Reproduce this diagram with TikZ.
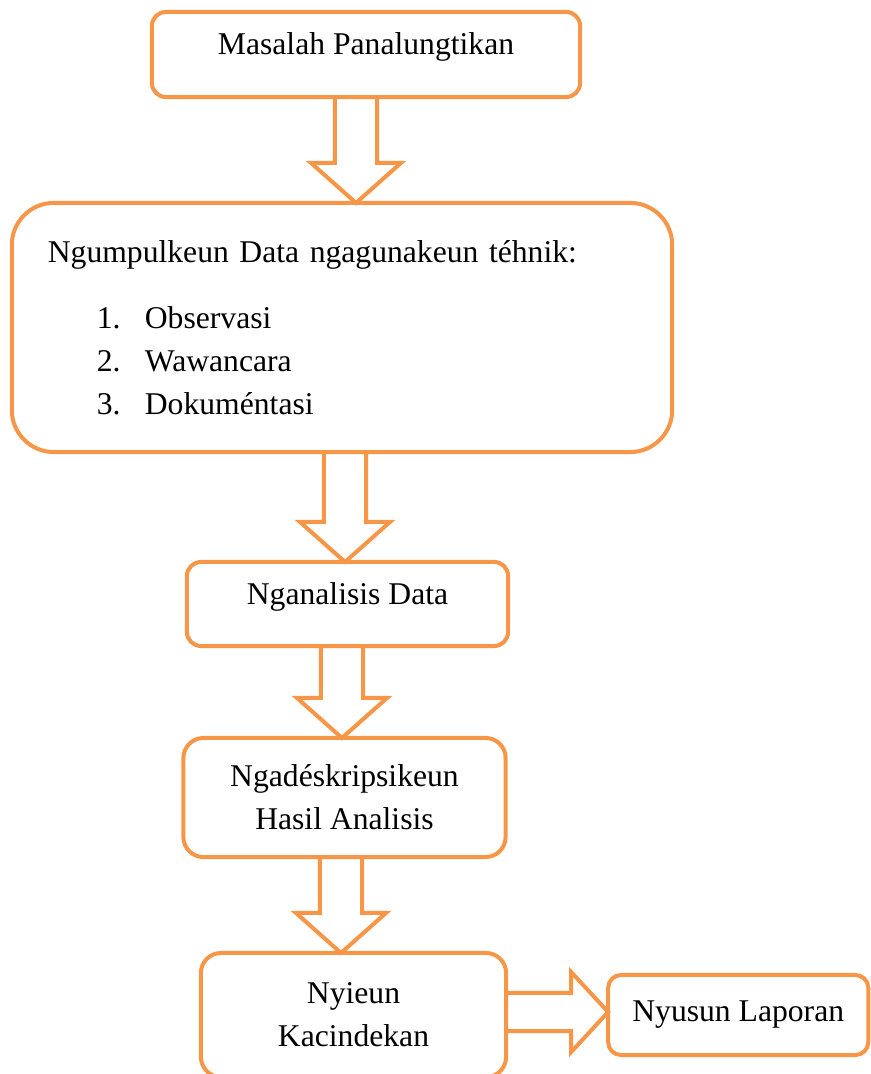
\documentclass[tikz,border=0pt]{standalone}
\usepackage{fontspec}
\setmainfont{Liberation Serif}
\usetikzlibrary{calc,positioning}
\definecolor{boxorange}{HTML}{F79646}

\tikzset{
  box/.style={draw=boxorange, line width=0.04cm, outer sep=0pt, inner sep=0pt,
    align=center, font=\fontsize{9}{12.2}\selectfont},
  blockdown/.style={draw=boxorange, line width=0.04cm, fill=white,
    to path={let \p1=(\tikztostart), \p2=(\tikztotarget) in
      (\x1-0.21cm,\y1) -- (\x1-0.21cm,\y2+0.4cm) -- (\x1-0.45cm,\y2+0.4cm)
      -- (\x1,\y2) -- (\x1+0.45cm,\y2+0.4cm) -- (\x1+0.21cm,\y2+0.4cm)
      -- (\x1+0.21cm,\y1) -- cycle}},
  blockright/.style={draw=boxorange, line width=0.04cm, fill=white,
    to path={let \p1=(\tikztostart), \p2=(\tikztotarget) in
      (\x1,\y1-0.19cm) -- (\x2-0.37cm,\y1-0.19cm) -- (\x2-0.37cm,\y1-0.4cm)
      -- (\x2,\y1) -- (\x2-0.37cm,\y1+0.4cm) -- (\x2-0.37cm,\y1+0.19cm)
      -- (\x1,\y1+0.19cm) -- cycle}}
}

\begin{document}
\begin{tikzpicture}[x=0.01cm,y=-0.01cm]
\useasboundingbox (0,0) rectangle (871,1074);

\node[box, minimum width=4.28cm, minimum height=0.85cm, rounded corners=0.14cm,
  text depth=6.2pt] (masalah) at (366,54.5) {Masalah Panalungtikan};
\node[box, minimum width=6.6cm, minimum height=2.49cm, rounded corners=0.42cm,
  text width=5.88cm, align=left] (ngumpul) at (342,327.5)
  {Ngumpulkeun Data ngagunakeun téhnik:\\[2.3mm]
   \hspace*{4.9mm}\makebox[4.8mm][l]{1.}Observasi\\
   \hspace*{4.9mm}\makebox[4.8mm][l]{2.}Wawancara\\
   \hspace*{4.9mm}\makebox[4.8mm][l]{3.}Dokuméntasi};
\node[box, minimum width=3.21cm, minimum height=0.84cm, rounded corners=0.14cm,
  text depth=6.2pt] (analisis) at (347.5,604) {Nganalisis Data};
\node[box, minimum width=3.22cm, minimum height=1.19cm, rounded corners=0.2cm]
  (deskripsi) at (344.5,797.5) {Ngadéskripsikeun\\Hasil Analisis};
\node[box, minimum width=3.05cm, minimum height=1.24cm, rounded corners=0.2cm]
  (kacindekan) at (353.5,1015) {Nyieun\\Kacindekan};
\node[box, minimum width=2.6cm, minimum height=0.8cm, rounded corners=0.13cm,
  right=1.02cm of kacindekan] (laporan) {Nyusun Laporan};

% panah blok
\draw[blockdown] ([xshift=-0.1cm]masalah.south) to (ngumpul.north);
\draw[blockdown] ([xshift=0.03cm]ngumpul.south) to (analisis.north);
\draw[blockdown] ([xshift=-0.055cm]analisis.south) to (deskripsi.north);
\draw[blockdown] ([xshift=-0.035cm]deskripsi.south) to (kacindekan.north);
\draw[blockright] ([yshift=0.03cm]kacindekan.east) to (laporan.west);
\end{tikzpicture}
\end{document}
